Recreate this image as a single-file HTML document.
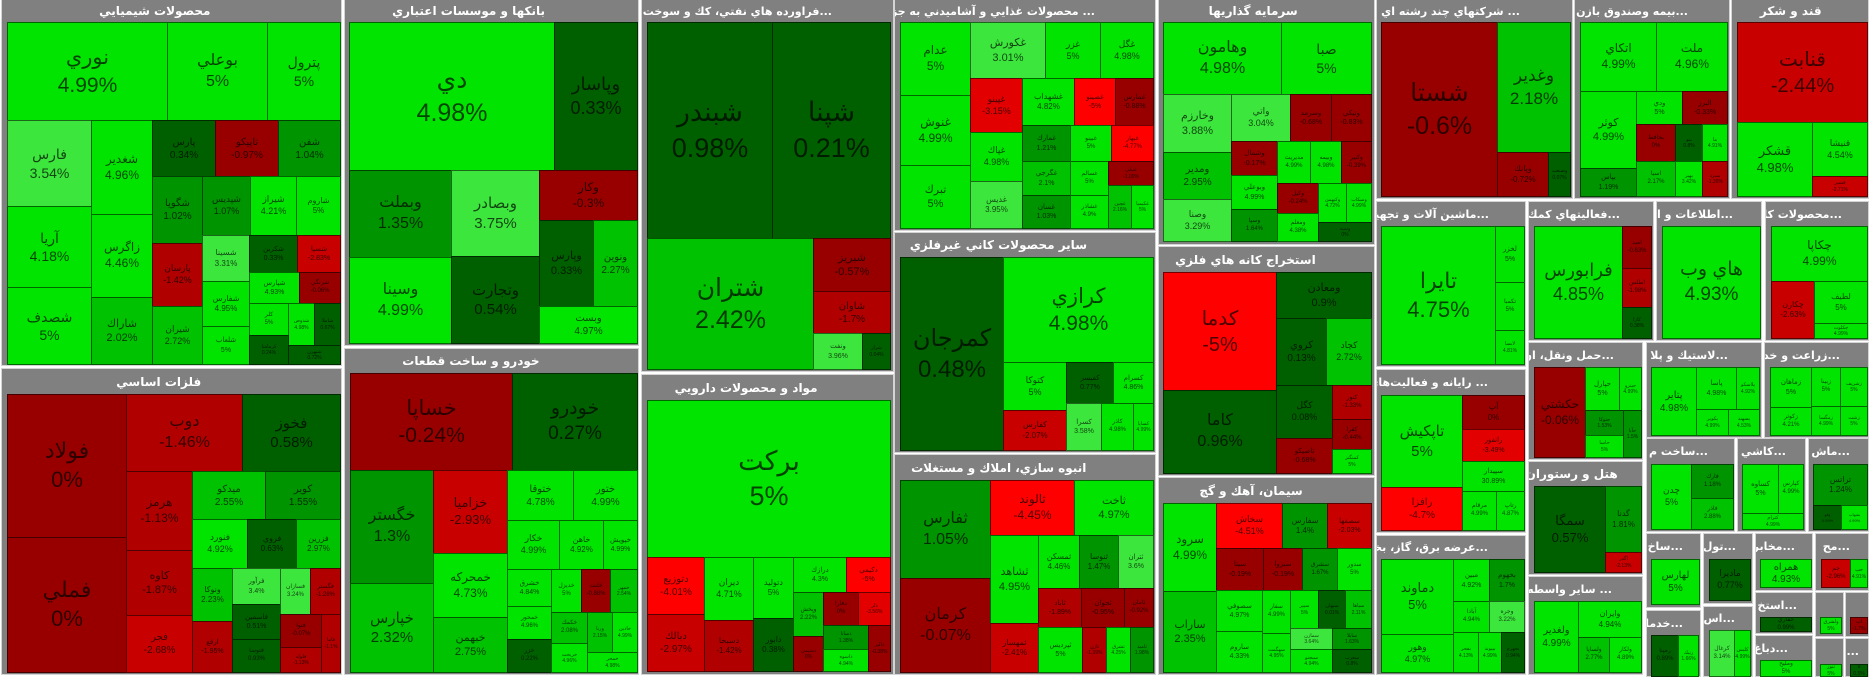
<!DOCTYPE html>
<html><head><meta charset="utf-8">
<style>
html,body{margin:0;padding:0}
body{width:1871px;height:676px;background:#fff;position:relative;overflow:hidden;font-family:"Liberation Sans","DejaVu Sans",sans-serif}
.s{position:absolute;background:#808080;box-shadow:0 0 0 1px #d4d4d4}
.h{position:absolute;left:0;right:0;top:0;display:flex;align-items:center;justify-content:center;color:#fff;font-weight:bold;font-size:12px;white-space:nowrap;overflow:hidden;font-family:"DejaVu Sans",sans-serif}
.h span{transform:translateX(-15%)}
.h.r{justify-content:flex-end;font-size:11px}
.h.r span{transform:none}
.t{position:absolute;box-sizing:border-box;border:1px solid rgba(0,0,0,.55);display:flex;align-items:center;justify-content:center;text-align:center;overflow:hidden;color:rgba(0,0,0,.7);line-height:1.3;white-space:nowrap}
.t p{margin:0}
.g4{background:#00e400}.g3{background:#3ce63c}.g2{background:#00c200}.g1{background:#009400}.g0{background:#006000}
.r0{background:#980000}.r1{background:#b00000}.r2{background:#c80000}.r3{background:#e20000}.r4{background:#ff0000}
</style></head><body>

<!-- sectors -->
<div class="s" style="left:2px;top:0;width:339px;height:365px"><div class="h" style="height:22px"><span>محصولات شيميايي</span></div></div>
<div class="s" style="left:2px;top:369px;width:339px;height:305px"><div class="h" style="height:25px"><span>فلزات اساسي</span></div></div>
<div class="s" style="left:345px;top:0;width:293px;height:345px"><div class="h" style="height:22px"><span>بانكها و موسسات اعتباري</span></div></div>
<div class="s" style="left:345px;top:349px;width:293px;height:325px"><div class="h" style="height:24px"><span>خودرو و ساخت قطعات</span></div></div>
<div class="s" style="left:642px;top:0;width:251px;height:371px"><div class="h r" style="height:22px;padding-right:61px"><span>فراورده هاي نفتي، كك و سوخت ه...</span></div></div>
<div class="s" style="left:642px;top:375px;width:251px;height:299px"><div class="h" style="height:25px"><span>مواد و محصولات دارويي</span></div></div>
<div class="s" style="left:895px;top:0;width:260px;height:230px"><div class="h r" style="height:22px;padding-right:60px"><span>محصولات غذايي و آشاميدني به جز ...</span></div></div>
<div class="s" style="left:895px;top:233px;width:260px;height:219px"><div class="h" style="height:24px"><span>ساير محصولات كاني غيرفلزي</span></div></div>
<div class="s" style="left:895px;top:455px;width:260px;height:219px"><div class="h" style="height:25px"><span>انبوه سازي، املاك و مستغلات</span></div></div>
<div class="s" style="left:1159px;top:0;width:215px;height:244px"><div class="h" style="height:22px"><span>سرمايه گذاريها</span></div></div>
<div class="s" style="left:1159px;top:247px;width:215px;height:228px"><div class="h" style="height:25px"><span>استخراج كانه هاي فلزي</span></div></div>
<div class="s" style="left:1159px;top:478px;width:215px;height:196px"><div class="h" style="height:25px"><span>سيمان، آهك و گچ</span></div></div>
<div class="s" style="left:1377px;top:0;width:195px;height:198px"><div class="h r" style="height:22px;padding-right:52px"><span>شركتهاي چند رشته اي ...</span></div></div>
<div class="s" style="left:1575px;top:0;width:154px;height:198px"><div class="h r" style="height:22px;padding-right:41px"><span>بيمه وصندوق بازن...</span></div></div>
<div class="s" style="left:1732px;top:0;width:136px;height:198px"><div class="h" style="height:22px"><span>قند و شكر</span></div></div>
<div class="s" style="left:1377px;top:202px;width:148px;height:164px"><div class="h r" style="height:24px;padding-right:36px"><span>ماشين آلات و تجهيز...</span></div></div>
<div class="s" style="left:1529px;top:202px;width:124px;height:138px"><div class="h r" style="height:24px;padding-right:33px"><span>فعاليتهاي كمك...</span></div></div>
<div class="s" style="left:1657px;top:202px;width:104px;height:138px"><div class="h r" style="height:24px;padding-right:28px"><span>اطلاعات و ار...</span></div></div>
<div class="s" style="left:1766px;top:202px;width:102px;height:138px"><div class="h r" style="height:24px;padding-right:26px"><span>محصولات كا...</span></div></div>
<div class="s" style="left:1377px;top:370px;width:148px;height:162px"><div class="h r" style="height:25px;padding-right:37px"><span>رايانه و فعاليت‌هاي ...</span></div></div>
<div class="s" style="left:1377px;top:536px;width:148px;height:138px"><div class="h r" style="height:23px;padding-right:37px"><span>عرضه برق، گاز، بخا...</span></div></div>
<div class="s" style="left:1529px;top:343px;width:113px;height:116px"><div class="h r" style="height:24px;padding-right:28px"><span>حمل ونقل، ان...</span></div></div>
<div class="s" style="left:1529px;top:462px;width:113px;height:112px"><div class="h" style="height:24px"><span>هتل و رستوران</span></div></div>
<div class="s" style="left:1529px;top:577px;width:113px;height:97px"><div class="h r" style="height:24px;padding-right:30px"><span>ساير واسطه ...</span></div></div>
<div class="s" style="left:1647px;top:343px;width:114px;height:94px"><div class="h r" style="height:24px;padding-right:33px"><span>لاستيك و پلا...</span></div></div>
<div class="s" style="left:1765px;top:343px;width:103px;height:94px"><div class="h r" style="height:24px;padding-right:28px"><span>زراعت و خد...</span></div></div>
<div class="s" style="left:1647px;top:439px;width:87px;height:92px"><div class="h r" style="height:25px;padding-right:26px"><span>ساخت م...</span></div></div>
<div class="s" style="left:1738px;top:439px;width:67px;height:92px"><div class="h r" style="height:25px;padding-right:19px"><span>كاشي...</span></div></div>
<div class="s" style="left:1809px;top:439px;width:59px;height:92px"><div class="h r" style="height:25px;padding-right:18px"><span>ماش...</span></div></div>
<div class="s" style="left:1647px;top:534px;width:53px;height:73px"><div class="h r" style="height:25px;padding-right:17px"><span>ساخ...</span></div></div>
<div class="s" style="left:1704px;top:534px;width:48px;height:69px"><div class="h r" style="height:25px;padding-right:16px"><span>تول...</span></div></div>
<div class="s" style="left:1756px;top:534px;width:56px;height:56px"><div class="h r" style="height:25px;padding-right:17px"><span>مخابر...</span></div></div>
<div class="s" style="left:1816px;top:534px;width:52px;height:56px"><div class="h r" style="height:25px;padding-right:18px"><span>مح...</span></div></div>
<div class="s" style="left:1647px;top:611px;width:53px;height:65px"><div class="h r" style="height:24px;padding-right:17px"><span>خدما...</span></div></div>
<div class="s" style="left:1704px;top:607px;width:48px;height:69px"><div class="h r" style="height:23px;padding-right:17px"><span>اس...</span></div></div>
<div class="s" style="left:1756px;top:593px;width:56px;height:40px"><div class="h r" style="height:24px;padding-right:15px"><span>استخ...</span></div></div>
<div class="s" style="left:1756px;top:636px;width:56px;height:40px"><div class="h r" style="height:24px;padding-right:24px"><span>دباغ...</span></div></div>
<div class="s" style="left:1816px;top:593px;width:27px;height:43px"></div>
<div class="s" style="left:1846px;top:593px;width:22px;height:43px"></div>
<div class="s" style="left:1816px;top:639px;width:27px;height:37px"></div>
<div class="s" style="left:1846px;top:639px;width:22px;height:37px"><div class="h r" style="height:25px;padding-right:9px"><span>ا...</span></div></div>

<!-- chem -->
<div class="t g4" style="left:7px;top:22px;width:161px;height:99px;font-size:21px"><p>نوري<br>4.99%</p></div>
<div class="t g4" style="left:167px;top:22px;width:101px;height:99px;font-size:16px"><p>بوعلي<br>5%</p></div>
<div class="t g4" style="left:267px;top:22px;width:74px;height:99px;font-size:14px"><p>پترول<br>5%</p></div>
<div class="t g3" style="left:7px;top:120px;width:85px;height:87px;font-size:14px"><p>فارس<br>3.54%</p></div>
<div class="t g4" style="left:7px;top:206px;width:85px;height:82px;font-size:14px"><p>آريا<br>4.18%</p></div>
<div class="t g4" style="left:7px;top:287px;width:85px;height:78px;font-size:14px"><p>شصدف<br>5%</p></div>
<div class="t g4" style="left:91px;top:120px;width:62px;height:95px;font-size:12px"><p>شغدير<br>4.96%</p></div>
<div class="t g4" style="left:91px;top:214px;width:62px;height:84px;font-size:12px"><p>زاگرس<br>4.46%</p></div>
<div class="t g2" style="left:91px;top:297px;width:62px;height:68px;font-size:11px"><p>شاراك<br>2.02%</p></div>
<div class="t g0" style="left:152px;top:120px;width:64px;height:57px;font-size:10px"><p>پارس<br>0.34%</p></div>
<div class="t r0" style="left:215px;top:120px;width:64px;height:57px;font-size:10px"><p>تاپيكو<br>-0.97%</p></div>
<div class="t g1" style="left:278px;top:120px;width:63px;height:57px;font-size:10px"><p>شفن<br>1.04%</p></div>
<div class="t g1" style="left:152px;top:176px;width:51px;height:68px;font-size:10px"><p>شگويا<br>1.02%</p></div>
<div class="t r1" style="left:152px;top:243px;width:51px;height:64px;font-size:9px"><p>پارسان<br>-1.42%</p></div>
<div class="t g2" style="left:152px;top:306px;width:51px;height:59px;font-size:9px"><p>شيران<br>2.72%</p></div>
<div class="t g1" style="left:202px;top:176px;width:49px;height:60px;font-size:9px"><p>شپديس<br>1.07%</p></div>
<div class="t g4" style="left:250px;top:176px;width:47px;height:60px;font-size:9px"><p>شيراز<br>4.21%</p></div>
<div class="t g4" style="left:296px;top:176px;width:45px;height:60px;font-size:8px"><p>شاروم<br>5%</p></div>
<div class="t g3" style="left:202px;top:235px;width:48px;height:47px;font-size:8px"><p>شسينا<br>3.31%</p></div>
<div class="t g4" style="left:202px;top:281px;width:48px;height:46px;font-size:8px"><p>شفارس<br>4.95%</p></div>
<div class="t g4" style="left:202px;top:326px;width:48px;height:39px;font-size:7px"><p>شلعاب<br>5%</p></div>
<div class="t g0" style="left:249px;top:235px;width:49px;height:38px;font-size:7px"><p>شكربن<br>0.33%</p></div>
<div class="t r2" style="left:297px;top:235px;width:44px;height:38px;font-size:7px"><p>شسپا<br>-2.83%</p></div>
<div class="t g4" style="left:249px;top:272px;width:51px;height:32px;font-size:7px"><p>شپارس<br>4.93%</p></div>
<div class="t r0" style="left:299px;top:272px;width:42px;height:32px;font-size:6px"><p>شرنگي<br>-0.06%</p></div>
<div class="t g4" style="left:249px;top:303px;width:40px;height:33px;font-size:6px"><p>كلر<br>5%</p></div>
<div class="t g4" style="left:288px;top:303px;width:27px;height:43px;font-size:5px"><p>شدوص<br>4.98%</p></div>
<div class="t g0" style="left:314px;top:303px;width:27px;height:43px;font-size:5px"><p>شاملا<br>0.67%</p></div>
<div class="t g0" style="left:249px;top:335px;width:40px;height:30px;font-size:5px"><p>كرماشا<br>0.24%</p></div>
<div class="t g0" style="left:288px;top:345px;width:53px;height:20px;font-size:5px"><p>شبهرن<br>0.72%</p></div>

<!-- metals -->
<div class="t r0" style="left:7px;top:394px;width:120px;height:144px;font-size:22px"><p>فولاد<br>0%</p></div>
<div class="t r0" style="left:7px;top:537px;width:120px;height:136px;font-size:22px"><p>فملي<br>0%</p></div>
<div class="t r1" style="left:126px;top:394px;width:117px;height:78px;font-size:16px"><p>دوب<br>-1.46%</p></div>
<div class="t g0" style="left:242px;top:394px;width:99px;height:78px;font-size:15px"><p>فخوز<br>0.58%</p></div>
<div class="t r1" style="left:126px;top:471px;width:67px;height:80px;font-size:12px"><p>هرمز<br>-1.13%</p></div>
<div class="t r1" style="left:126px;top:550px;width:67px;height:66px;font-size:11px"><p>كاوه<br>-1.87%</p></div>
<div class="t r2" style="left:126px;top:615px;width:67px;height:58px;font-size:10px"><p>فجر<br>-2.68%</p></div>
<div class="t g2" style="left:192px;top:471px;width:74px;height:49px;font-size:10px"><p>ميدكو<br>2.55%</p></div>
<div class="t g1" style="left:265px;top:471px;width:76px;height:49px;font-size:10px"><p>كوير<br>1.55%</p></div>
<div class="t g4" style="left:192px;top:519px;width:56px;height:50px;font-size:9px"><p>فنورد<br>4.92%</p></div>
<div class="t g0" style="left:247px;top:519px;width:50px;height:50px;font-size:8px"><p>فروي<br>0.63%</p></div>
<div class="t g2" style="left:296px;top:519px;width:45px;height:50px;font-size:8px"><p>فزرين<br>2.97%</p></div>
<div class="t g2" style="left:192px;top:568px;width:41px;height:54px;font-size:8px"><p>ونوكا<br>2.23%</p></div>
<div class="t r1" style="left:192px;top:621px;width:41px;height:52px;font-size:7px"><p>ارفع<br>-1.95%</p></div>
<div class="t g3" style="left:232px;top:568px;width:49px;height:37px;font-size:7px"><p>فرآور<br>3.4%</p></div>
<div class="t g0" style="left:232px;top:604px;width:49px;height:36px;font-size:7px"><p>فاسمين<br>0.51%</p></div>
<div class="t g0" style="left:232px;top:639px;width:49px;height:34px;font-size:6px"><p>فتوسا<br>0.93%</p></div>
<div class="t g3" style="left:280px;top:568px;width:31px;height:47px;font-size:6px"><p>فسازان<br>3.24%</p></div>
<div class="t r1" style="left:310px;top:568px;width:31px;height:47px;font-size:6px"><p>فگستر<br>-1.28%</p></div>
<div class="t r0" style="left:280px;top:614px;width:42px;height:34px;font-size:6px"><p>فنوا<br>-0.07%</p></div>
<div class="t r1" style="left:280px;top:647px;width:42px;height:26px;font-size:5px"><p>فلوله<br>-1.13%</p></div>
<div class="t r1" style="left:321px;top:614px;width:20px;height:59px;font-size:5px"><p>فاما<br>-1.1%</p></div>

<!-- banks -->
<div class="t g4" style="left:349px;top:22px;width:206px;height:149px;font-size:25px"><p>دي<br>4.98%</p></div>
<div class="t g0" style="left:554px;top:22px;width:84px;height:149px;font-size:18px"><p>وپاسار<br>0.33%</p></div>
<div class="t g1" style="left:349px;top:170px;width:103px;height:88px;font-size:16px"><p>وبملت<br>1.35%</p></div>
<div class="t g4" style="left:349px;top:257px;width:103px;height:87px;font-size:16px"><p>وسينا<br>4.99%</p></div>
<div class="t g3" style="left:451px;top:170px;width:89px;height:87px;font-size:15px"><p>وبصادر<br>3.75%</p></div>
<div class="t g0" style="left:451px;top:256px;width:89px;height:88px;font-size:15px"><p>وتجارت<br>0.54%</p></div>
<div class="t r0" style="left:539px;top:170px;width:99px;height:51px;font-size:12px"><p>وكار<br>-0.3%</p></div>
<div class="t g0" style="left:539px;top:220px;width:55px;height:87px;font-size:11px"><p>وپارس<br>0.33%</p></div>
<div class="t g2" style="left:593px;top:220px;width:45px;height:87px;font-size:10px"><p>ونوين<br>2.27%</p></div>
<div class="t g4" style="left:539px;top:306px;width:99px;height:38px;font-size:10px"><p>وبست<br>4.97%</p></div>

<!-- khodro -->
<div class="t r0" style="left:350px;top:373px;width:163px;height:98px;font-size:21px"><p>خساپا<br>-0.24%</p></div>
<div class="t g0" style="left:512px;top:373px;width:126px;height:98px;font-size:19px"><p>خودرو<br>0.27%</p></div>
<div class="t g1" style="left:350px;top:470px;width:84px;height:114px;font-size:16px"><p>خگستر<br>1.3%</p></div>
<div class="t g2" style="left:350px;top:583px;width:84px;height:90px;font-size:15px"><p>خپارس<br>2.32%</p></div>
<div class="t r2" style="left:433px;top:470px;width:75px;height:84px;font-size:13px"><p>خزاميا<br>-2.93%</p></div>
<div class="t g4" style="left:433px;top:553px;width:75px;height:65px;font-size:12px"><p>خمحركه<br>4.73%</p></div>
<div class="t g2" style="left:433px;top:617px;width:75px;height:56px;font-size:11px"><p>خبهمن<br>2.75%</p></div>
<div class="t g4" style="left:507px;top:470px;width:67px;height:51px;font-size:10px"><p>ختوقا<br>4.78%</p></div>
<div class="t g4" style="left:573px;top:470px;width:65px;height:51px;font-size:10px"><p>ختور<br>4.99%</p></div>
<div class="t g4" style="left:507px;top:520px;width:53px;height:50px;font-size:9px"><p>خكار<br>4.99%</p></div>
<div class="t g4" style="left:559px;top:520px;width:45px;height:50px;font-size:8px"><p>خاهن<br>4.92%</p></div>
<div class="t g4" style="left:603px;top:520px;width:35px;height:50px;font-size:7px"><p>خپويش<br>4.99%</p></div>
<div class="t g4" style="left:507px;top:569px;width:45px;height:38px;font-size:7px"><p>خشرق<br>4.84%</p></div>
<div class="t g4" style="left:507px;top:606px;width:45px;height:34px;font-size:6px"><p>خمحور<br>4.96%</p></div>
<div class="t g0" style="left:507px;top:639px;width:45px;height:34px;font-size:6px"><p>خزر<br>0.22%</p></div>
<div class="t g4" style="left:551px;top:569px;width:31px;height:44px;font-size:6px"><p>خديزل<br>5%</p></div>
<div class="t r0" style="left:581px;top:569px;width:30px;height:44px;font-size:6px"><p>خلنت<br>-0.88%</p></div>
<div class="t g2" style="left:610px;top:569px;width:28px;height:44px;font-size:5px"><p>خمهر<br>2.54%</p></div>
<div class="t g2" style="left:551px;top:612px;width:37px;height:32px;font-size:6px"><p>خكمك<br>2.08%</p></div>
<div class="t g4" style="left:551px;top:643px;width:37px;height:30px;font-size:5px"><p>خريخت<br>4.96%</p></div>
<div class="t g2" style="left:587px;top:612px;width:26px;height:41px;font-size:5px"><p>ورنا<br>2.15%</p></div>
<div class="t g4" style="left:612px;top:612px;width:26px;height:41px;font-size:5px"><p>خاذين<br>4.99%</p></div>
<div class="t g4" style="left:587px;top:652px;width:51px;height:21px;font-size:5px"><p>خمحر<br>4.98%</p></div>

<!-- oil -->
<div class="t g0" style="left:647px;top:22px;width:126px;height:217px;font-size:27px"><p>شبندر<br>0.98%</p></div>
<div class="t g0" style="left:772px;top:22px;width:119px;height:217px;font-size:27px"><p>شپنا<br>0.21%</p></div>
<div class="t g2" style="left:647px;top:238px;width:167px;height:132px;font-size:25px"><p>شتران<br>2.42%</p></div>
<div class="t r0" style="left:813px;top:238px;width:78px;height:54px;font-size:11px"><p>شبريز<br>-0.57%</p></div>
<div class="t r1" style="left:813px;top:291px;width:78px;height:43px;font-size:10px"><p>شاوان<br>-1.7%</p></div>
<div class="t g3" style="left:813px;top:333px;width:50px;height:37px;font-size:7px"><p>ونفت<br>3.96%</p></div>
<div class="t g0" style="left:862px;top:333px;width:29px;height:37px;font-size:5px"><p>شراز<br>0.04%</p></div>

<!-- pharma -->
<div class="t g4" style="left:647px;top:400px;width:244px;height:158px;font-size:27px"><p>بركت<br>5%</p></div>
<div class="t r4" style="left:647px;top:557px;width:58px;height:58px;font-size:10px"><p>دتوزيع<br>-4.01%</p></div>
<div class="t r2" style="left:647px;top:614px;width:58px;height:58px;font-size:10px"><p>دبالك<br>-2.97%</p></div>
<div class="t g4" style="left:704px;top:557px;width:50px;height:64px;font-size:9px"><p>ديران<br>4.71%</p></div>
<div class="t r1" style="left:704px;top:620px;width:50px;height:52px;font-size:8px"><p>دسبحا<br>-1.42%</p></div>
<div class="t g4" style="left:753px;top:557px;width:41px;height:62px;font-size:8px"><p>دتوليد<br>5%</p></div>
<div class="t g0" style="left:753px;top:618px;width:41px;height:54px;font-size:8px"><p>دابور<br>0.38%</p></div>
<div class="t g4" style="left:793px;top:557px;width:54px;height:36px;font-size:7px"><p>درازك<br>4.3%</p></div>
<div class="t r4" style="left:846px;top:557px;width:45px;height:36px;font-size:7px"><p>دكيمي<br>-5%</p></div>
<div class="t g2" style="left:793px;top:592px;width:31px;height:45px;font-size:6px"><p>وپخش<br>2.22%</p></div>
<div class="t r0" style="left:793px;top:636px;width:31px;height:36px;font-size:5px"><p>دشيمي<br>0%</p></div>
<div class="t r0" style="left:823px;top:592px;width:36px;height:34px;font-size:6px"><p>دفارا<br>0%</p></div>
<div class="t r3" style="left:858px;top:592px;width:33px;height:34px;font-size:5px"><p>دلر<br>-3.56%</p></div>
<div class="t g1" style="left:823px;top:625px;width:46px;height:25px;font-size:5px"><p>دسانا<br>1.38%</p></div>
<div class="t g4" style="left:823px;top:649px;width:46px;height:23px;font-size:5px"><p>داسوه<br>4.94%</p></div>
<div class="t r0" style="left:868px;top:625px;width:23px;height:47px;font-size:5px"><p>دالبر<br>-0.38%</p></div>

<!-- food -->
<div class="t g4" style="left:900px;top:22px;width:71px;height:74px;font-size:12px"><p>عدام<br>5%</p></div>
<div class="t g4" style="left:900px;top:95px;width:71px;height:71px;font-size:12px"><p>غنوش<br>4.99%</p></div>
<div class="t g4" style="left:900px;top:165px;width:71px;height:64px;font-size:11px"><p>تبرك<br>5%</p></div>
<div class="t g3" style="left:970px;top:22px;width:76px;height:57px;font-size:11px"><p>غكورش<br>3.01%</p></div>
<div class="t g4" style="left:1045px;top:22px;width:56px;height:57px;font-size:9px"><p>غزر<br>5%</p></div>
<div class="t g4" style="left:1100px;top:22px;width:54px;height:57px;font-size:9px"><p>غگل<br>4.98%</p></div>
<div class="t r3" style="left:970px;top:78px;width:53px;height:55px;font-size:9px"><p>غپينو<br>-3.15%</p></div>
<div class="t g4" style="left:1022px;top:78px;width:53px;height:48px;font-size:8px"><p>غشهداب<br>4.82%</p></div>
<div class="t r4" style="left:1074px;top:78px;width:42px;height:48px;font-size:7px"><p>غصينو<br>-5%</p></div>
<div class="t r0" style="left:1115px;top:78px;width:39px;height:48px;font-size:7px"><p>غمارس<br>-0.88%</p></div>
<div class="t g4" style="left:970px;top:132px;width:53px;height:50px;font-size:9px"><p>غپاك<br>4.98%</p></div>
<div class="t g3" style="left:970px;top:181px;width:53px;height:48px;font-size:8px"><p>غديس<br>3.95%</p></div>
<div class="t g1" style="left:1022px;top:125px;width:49px;height:37px;font-size:7px"><p>غمارك<br>1.21%</p></div>
<div class="t g2" style="left:1022px;top:161px;width:49px;height:35px;font-size:7px"><p>غگرجي<br>2.1%</p></div>
<div class="t g1" style="left:1022px;top:195px;width:49px;height:34px;font-size:7px"><p>غسان<br>1.03%</p></div>
<div class="t g4" style="left:1070px;top:125px;width:42px;height:37px;font-size:6px"><p>غبينو<br>5%</p></div>
<div class="t r4" style="left:1111px;top:125px;width:43px;height:37px;font-size:6px"><p>غبهار<br>-4.77%</p></div>
<div class="t g4" style="left:1070px;top:161px;width:39px;height:35px;font-size:6px"><p>غسالم<br>5%</p></div>
<div class="t g4" style="left:1070px;top:195px;width:39px;height:34px;font-size:6px"><p>غشاذر<br>4.9%</p></div>
<div class="t r0" style="left:1108px;top:161px;width:46px;height:25px;font-size:5px"><p>غنيلي<br>-1.09%</p></div>
<div class="t g2" style="left:1108px;top:185px;width:24px;height:44px;font-size:5px"><p>غچين<br>2.16%</p></div>
<div class="t g4" style="left:1131px;top:185px;width:23px;height:44px;font-size:5px"><p>غكيميا<br>5%</p></div>

<!-- kani -->
<div class="t g0" style="left:900px;top:257px;width:104px;height:194px;font-size:24px"><p>كمرجان<br>0.48%</p></div>
<div class="t g4" style="left:1003px;top:257px;width:151px;height:106px;font-size:21px"><p>كرازي<br>4.98%</p></div>
<div class="t g4" style="left:1003px;top:362px;width:64px;height:49px;font-size:9px"><p>كتوكا<br>5%</p></div>
<div class="t g0" style="left:1066px;top:362px;width:48px;height:42px;font-size:7px"><p>كفيسر<br>0.77%</p></div>
<div class="t g4" style="left:1113px;top:362px;width:41px;height:42px;font-size:7px"><p>كسرام<br>4.86%</p></div>
<div class="t r2" style="left:1003px;top:410px;width:64px;height:41px;font-size:8px"><p>كفارس<br>-2.07%</p></div>
<div class="t g3" style="left:1066px;top:403px;width:36px;height:48px;font-size:7px"><p>كسرا<br>3.58%</p></div>
<div class="t g4" style="left:1101px;top:403px;width:33px;height:48px;font-size:6px"><p>كاذر<br>4.98%</p></div>
<div class="t g4" style="left:1133px;top:403px;width:21px;height:48px;font-size:5px"><p>كساپا<br>4.99%</p></div>

<!-- anbooh -->
<div class="t g1" style="left:900px;top:480px;width:91px;height:99px;font-size:16px"><p>ثفارس<br>1.05%</p></div>
<div class="t r0" style="left:900px;top:578px;width:91px;height:95px;font-size:16px"><p>كرمان<br>-0.07%</p></div>
<div class="t r4" style="left:990px;top:480px;width:85px;height:56px;font-size:12px"><p>ثالوند<br>-4.45%</p></div>
<div class="t g4" style="left:1074px;top:480px;width:80px;height:56px;font-size:11px"><p>ثاخت<br>4.97%</p></div>
<div class="t g4" style="left:990px;top:535px;width:49px;height:89px;font-size:11px"><p>ثشاهد<br>4.95%</p></div>
<div class="t r2" style="left:990px;top:623px;width:49px;height:50px;font-size:8px"><p>ثمهسار<br>-2.41%</p></div>
<div class="t g4" style="left:1038px;top:535px;width:42px;height:54px;font-size:8px"><p>ثمسكن<br>4.46%</p></div>
<div class="t g1" style="left:1079px;top:535px;width:40px;height:54px;font-size:8px"><p>ثنوسا<br>1.47%</p></div>
<div class="t g3" style="left:1118px;top:535px;width:36px;height:54px;font-size:7px"><p>ثتران<br>3.6%</p></div>
<div class="t r1" style="left:1038px;top:588px;width:44px;height:40px;font-size:7px"><p>ثاباد<br>-1.89%</p></div>
<div class="t r0" style="left:1081px;top:588px;width:44px;height:40px;font-size:7px"><p>ثجوان<br>-0.95%</p></div>
<div class="t r0" style="left:1124px;top:588px;width:30px;height:40px;font-size:6px"><p>ثامان<br>-0.92%</p></div>
<div class="t g4" style="left:1038px;top:627px;width:45px;height:46px;font-size:7px"><p>ثپرديس<br>5%</p></div>
<div class="t r1" style="left:1082px;top:627px;width:25px;height:46px;font-size:5px"><p>ثاژن<br>-1.39%</p></div>
<div class="t g4" style="left:1106px;top:627px;width:25px;height:46px;font-size:5px"><p>ثشرق<br>4.25%</p></div>
<div class="t g1" style="left:1130px;top:627px;width:24px;height:46px;font-size:5px"><p>ثاميد<br>1.98%</p></div>

<!-- sarmaye -->
<div class="t g4" style="left:1163px;top:22px;width:119px;height:73px;font-size:16px"><p>وهامون<br>4.98%</p></div>
<div class="t g4" style="left:1281px;top:22px;width:91px;height:73px;font-size:14px"><p>صبا<br>5%</p></div>
<div class="t g3" style="left:1163px;top:94px;width:69px;height:59px;font-size:11px"><p>وخارزم<br>3.88%</p></div>
<div class="t g2" style="left:1163px;top:152px;width:69px;height:48px;font-size:10px"><p>ومدير<br>2.95%</p></div>
<div class="t g3" style="left:1163px;top:199px;width:69px;height:43px;font-size:9px"><p>وصنا<br>3.29%</p></div>
<div class="t g3" style="left:1231px;top:94px;width:60px;height:48px;font-size:9px"><p>واتي<br>3.04%</p></div>
<div class="t r0" style="left:1290px;top:94px;width:42px;height:48px;font-size:7px"><p>وسرمد<br>-0.68%</p></div>
<div class="t r0" style="left:1331px;top:94px;width:41px;height:48px;font-size:7px"><p>ونيكي<br>-0.83%</p></div>
<div class="t r0" style="left:1231px;top:141px;width:47px;height:35px;font-size:7px"><p>وشمال<br>-0.17%</p></div>
<div class="t g4" style="left:1231px;top:175px;width:47px;height:35px;font-size:7px"><p>وبوعلي<br>4.99%</p></div>
<div class="t g1" style="left:1231px;top:209px;width:47px;height:33px;font-size:6px"><p>وسپا<br>1.64%</p></div>
<div class="t g4" style="left:1277px;top:141px;width:34px;height:43px;font-size:6px"><p>مديريت<br>4.99%</p></div>
<div class="t g4" style="left:1310px;top:141px;width:32px;height:43px;font-size:6px"><p>وبيمه<br>4.98%</p></div>
<div class="t r0" style="left:1341px;top:141px;width:31px;height:43px;font-size:6px"><p>وكبير<br>-0.39%</p></div>
<div class="t r0" style="left:1277px;top:183px;width:42px;height:31px;font-size:6px"><p>وكيل<br>-0.24%</p></div>
<div class="t g4" style="left:1277px;top:213px;width:42px;height:29px;font-size:6px"><p>ومعلم<br>4.38%</p></div>
<div class="t g4" style="left:1318px;top:183px;width:29px;height:40px;font-size:5px"><p>وكبهمن<br>4.72%</p></div>
<div class="t g4" style="left:1346px;top:183px;width:26px;height:40px;font-size:5px"><p>وسكاب<br>4.99%</p></div>
<div class="t g0" style="left:1318px;top:222px;width:54px;height:20px;font-size:5px"><p>وسپه<br>0%</p></div>

<!-- estekhraj -->
<div class="t r4" style="left:1163px;top:272px;width:114px;height:119px;font-size:20px"><p>كدما<br>-5%</p></div>
<div class="t g0" style="left:1163px;top:390px;width:114px;height:84px;font-size:16px"><p>كاما<br>0.96%</p></div>
<div class="t g0" style="left:1276px;top:272px;width:96px;height:47px;font-size:11px"><p>ومعادن<br>0.9%</p></div>
<div class="t g0" style="left:1276px;top:318px;width:51px;height:68px;font-size:10px"><p>كروي<br>0.13%</p></div>
<div class="t g2" style="left:1326px;top:318px;width:46px;height:68px;font-size:9px"><p>كچاد<br>2.72%</p></div>
<div class="t g0" style="left:1276px;top:385px;width:57px;height:54px;font-size:9px"><p>كگل<br>0.08%</p></div>
<div class="t r0" style="left:1276px;top:438px;width:57px;height:36px;font-size:7px"><p>تاصيكو<br>-0.68%</p></div>
<div class="t r1" style="left:1332px;top:385px;width:40px;height:35px;font-size:6px"><p>كنور<br>-1.33%</p></div>
<div class="t r0" style="left:1332px;top:419px;width:40px;height:31px;font-size:6px"><p>كفرا<br>-0.44%</p></div>
<div class="t g4" style="left:1332px;top:449px;width:40px;height:25px;font-size:5px"><p>كمنگنز<br>5%</p></div>

<!-- siman -->
<div class="t g4" style="left:1163px;top:503px;width:54px;height:89px;font-size:12px"><p>سرود<br>4.99%</p></div>
<div class="t g2" style="left:1163px;top:591px;width:54px;height:82px;font-size:11px"><p>ساراب<br>2.35%</p></div>
<div class="t r4" style="left:1216px;top:503px;width:67px;height:46px;font-size:9px"><p>سخاش<br>-4.51%</p></div>
<div class="t g1" style="left:1282px;top:503px;width:46px;height:46px;font-size:8px"><p>سفارس<br>1.4%</p></div>
<div class="t r2" style="left:1327px;top:503px;width:45px;height:46px;font-size:7px"><p>سصفها<br>-2.03%</p></div>
<div class="t r0" style="left:1216px;top:548px;width:48px;height:43px;font-size:7px"><p>سيتا<br>-0.19%</p></div>
<div class="t r0" style="left:1263px;top:548px;width:40px;height:43px;font-size:7px"><p>سبزوا<br>-0.19%</p></div>
<div class="t g1" style="left:1302px;top:548px;width:36px;height:43px;font-size:6px"><p>سشرق<br>1.67%</p></div>
<div class="t g4" style="left:1337px;top:548px;width:35px;height:43px;font-size:6px"><p>سدور<br>5%</p></div>
<div class="t g4" style="left:1216px;top:590px;width:47px;height:42px;font-size:7px"><p>سصوفي<br>4.97%</p></div>
<div class="t g4" style="left:1216px;top:631px;width:47px;height:42px;font-size:7px"><p>ساروم<br>4.33%</p></div>
<div class="t g4" style="left:1262px;top:590px;width:29px;height:44px;font-size:6px"><p>سفار<br>4.99%</p></div>
<div class="t g4" style="left:1262px;top:633px;width:29px;height:40px;font-size:5px"><p>سهگمت<br>4.95%</p></div>
<div class="t g4" style="left:1290px;top:590px;width:29px;height:39px;font-size:5px"><p>سيپر<br>5%</p></div>
<div class="t g0" style="left:1318px;top:590px;width:28px;height:39px;font-size:5px"><p>سبهان<br>0.01%</p></div>
<div class="t g2" style="left:1345px;top:590px;width:27px;height:39px;font-size:5px"><p>سپاها<br>2.11%</p></div>
<div class="t g3" style="left:1290px;top:628px;width:43px;height:22px;font-size:5px"><p>سمازن<br>3.64%</p></div>
<div class="t g1" style="left:1332px;top:628px;width:40px;height:22px;font-size:5px"><p>سايلا<br>1.63%</p></div>
<div class="t g4" style="left:1290px;top:649px;width:43px;height:24px;font-size:5px"><p>سبجنو<br>4.94%</p></div>
<div class="t g0" style="left:1332px;top:649px;width:40px;height:24px;font-size:5px"><p>سغرب<br>0.8%</p></div>

<!-- chand reshte -->
<div class="t r0" style="left:1381px;top:22px;width:117px;height:175px;font-size:25px"><p>شستا<br>-0.6%</p></div>
<div class="t g2" style="left:1497px;top:22px;width:74px;height:131px;font-size:17px"><p>وغدير<br>2.18%</p></div>
<div class="t r0" style="left:1497px;top:152px;width:52px;height:45px;font-size:8px"><p>وپانك<br>-0.72%</p></div>
<div class="t g0" style="left:1548px;top:152px;width:23px;height:45px;font-size:5px"><p>وصنعت<br>0.07%</p></div>

<!-- bime -->
<div class="t g4" style="left:1580px;top:22px;width:77px;height:70px;font-size:12px"><p>اتكاي<br>4.99%</p></div>
<div class="t g4" style="left:1656px;top:22px;width:72px;height:70px;font-size:12px"><p>ملت<br>4.96%</p></div>
<div class="t g4" style="left:1580px;top:91px;width:57px;height:78px;font-size:11px"><p>كوثر<br>4.99%</p></div>
<div class="t g1" style="left:1580px;top:168px;width:57px;height:29px;font-size:7px"><p>بپاس<br>1.19%</p></div>
<div class="t g4" style="left:1636px;top:91px;width:47px;height:34px;font-size:7px"><p>ودي<br>5%</p></div>
<div class="t r0" style="left:1682px;top:91px;width:46px;height:34px;font-size:7px"><p>البرز<br>-0.33%</p></div>
<div class="t r0" style="left:1636px;top:124px;width:40px;height:38px;font-size:6px"><p>بحافظ<br>0%</p></div>
<div class="t g0" style="left:1675px;top:124px;width:28px;height:38px;font-size:5px"><p>بنو<br>0.8%</p></div>
<div class="t g4" style="left:1702px;top:124px;width:26px;height:38px;font-size:5px"><p>ما<br>4.91%</p></div>
<div class="t g2" style="left:1636px;top:161px;width:40px;height:36px;font-size:6px"><p>اسيا<br>2.17%</p></div>
<div class="t g4" style="left:1675px;top:161px;width:28px;height:36px;font-size:5px"><p>بهير<br>3.42%</p></div>
<div class="t r1" style="left:1702px;top:161px;width:26px;height:36px;font-size:5px"><p>بسرد<br>-1.36%</p></div>

<!-- ghand -->
<div class="t r2" style="left:1737px;top:22px;width:131px;height:101px;font-size:20px"><p>قنابت<br>-2.44%</p></div>
<div class="t g4" style="left:1737px;top:122px;width:76px;height:75px;font-size:13px"><p>قشكر<br>4.98%</p></div>
<div class="t g4" style="left:1812px;top:122px;width:56px;height:55px;font-size:9px"><p>قنيشا<br>4.54%</p></div>
<div class="t r2" style="left:1812px;top:176px;width:56px;height:21px;font-size:5px"><p>قشير<br>-2.71%</p></div>

<!-- mashin -->
<div class="t g4" style="left:1381px;top:226px;width:115px;height:139px;font-size:22px"><p>تايرا<br>4.75%</p></div>
<div class="t g4" style="left:1495px;top:226px;width:30px;height:57px;font-size:7px"><p>لخزر<br>5%</p></div>
<div class="t g4" style="left:1495px;top:282px;width:30px;height:49px;font-size:6px"><p>تكمبا<br>5%</p></div>
<div class="t g4" style="left:1495px;top:330px;width:30px;height:35px;font-size:5px"><p>لابسا<br>4.81%</p></div>

<!-- faaliat -->
<div class="t g4" style="left:1534px;top:226px;width:89px;height:113px;font-size:18px"><p>فرابورس<br>4.85%</p></div>
<div class="t r0" style="left:1622px;top:226px;width:30px;height:43px;font-size:6px"><p>اميد<br>-0.63%</p></div>
<div class="t r1" style="left:1622px;top:268px;width:30px;height:40px;font-size:6px"><p>اطلس<br>-1.98%</p></div>
<div class="t g0" style="left:1622px;top:307px;width:30px;height:32px;font-size:5px"><p>كارا<br>0.38%</p></div>

<!-- web -->
<div class="t g4" style="left:1662px;top:226px;width:99px;height:113px;font-size:19px"><p>هاي وب<br>4.93%</p></div>

<!-- kashi products -->
<div class="t g4" style="left:1771px;top:226px;width:97px;height:56px;font-size:12px"><p>چكاپا<br>4.99%</p></div>
<div class="t r2" style="left:1771px;top:281px;width:44px;height:58px;font-size:8px"><p>چكارن<br>-2.63%</p></div>
<div class="t g4" style="left:1814px;top:281px;width:54px;height:43px;font-size:8px"><p>لطيف<br>5%</p></div>
<div class="t g4" style="left:1814px;top:323px;width:54px;height:16px;font-size:5px"><p>چكلوت<br>4.99%</p></div>

<!-- rayane -->
<div class="t g4" style="left:1381px;top:395px;width:82px;height:93px;font-size:15px"><p>تاپكيش<br>5%</p></div>
<div class="t r4" style="left:1381px;top:487px;width:82px;height:44px;font-size:10px"><p>رافزا<br>-4.7%</p></div>
<div class="t r0" style="left:1462px;top:395px;width:63px;height:35px;font-size:8px"><p>آپ<br>0%</p></div>
<div class="t r3" style="left:1462px;top:429px;width:63px;height:33px;font-size:7px"><p>رانفور<br>-3.49%</p></div>
<div class="t g4" style="left:1462px;top:461px;width:63px;height:31px;font-size:7px"><p>سپيدار<br>30.89%</p></div>
<div class="t g4" style="left:1462px;top:491px;width:35px;height:40px;font-size:6px"><p>مرقام<br>4.99%</p></div>
<div class="t g4" style="left:1496px;top:491px;width:29px;height:40px;font-size:6px"><p>رتاپ<br>4.87%</p></div>

<!-- bargh -->
<div class="t g4" style="left:1381px;top:559px;width:73px;height:76px;font-size:13px"><p>دماوند<br>5%</p></div>
<div class="t g4" style="left:1381px;top:634px;width:73px;height:39px;font-size:9px"><p>وهور<br>4.97%</p></div>
<div class="t g4" style="left:1453px;top:559px;width:37px;height:43px;font-size:7px"><p>مبين<br>4.92%</p></div>
<div class="t g1" style="left:1489px;top:559px;width:36px;height:43px;font-size:7px"><p>بخهوم<br>1.7%</p></div>
<div class="t g4" style="left:1453px;top:601px;width:37px;height:32px;font-size:6px"><p>آبادا<br>4.94%</p></div>
<div class="t g3" style="left:1489px;top:601px;width:36px;height:32px;font-size:6px"><p>وجره<br>3.22%</p></div>
<div class="t g4" style="left:1453px;top:632px;width:26px;height:41px;font-size:5px"><p>بفجر<br>4.13%</p></div>
<div class="t g4" style="left:1478px;top:632px;width:24px;height:41px;font-size:5px"><p>بپيوند<br>4.99%</p></div>
<div class="t g0" style="left:1501px;top:632px;width:24px;height:41px;font-size:5px"><p>بجهرم<br>0.94%</p></div>

<!-- haml -->
<div class="t r0" style="left:1534px;top:367px;width:52px;height:91px;font-size:12px"><p>حكشتي<br>-0.06%</p></div>
<div class="t g4" style="left:1585px;top:367px;width:35px;height:44px;font-size:7px"><p>حپارل<br>5%</p></div>
<div class="t g4" style="left:1619px;top:367px;width:23px;height:44px;font-size:5px"><p>حپترو<br>4.99%</p></div>
<div class="t g1" style="left:1585px;top:410px;width:39px;height:26px;font-size:5px"><p>حتوكا<br>1.53%</p></div>
<div class="t g4" style="left:1585px;top:435px;width:39px;height:23px;font-size:5px"><p>حاسا<br>5%</p></div>
<div class="t g1" style="left:1623px;top:410px;width:19px;height:48px;font-size:5px"><p>حآبا<br>1.5%</p></div>

<!-- hotel -->
<div class="t g0" style="left:1534px;top:486px;width:72px;height:87px;font-size:13px"><p>سمگا<br>0.57%</p></div>
<div class="t g1" style="left:1605px;top:486px;width:37px;height:67px;font-size:8px"><p>گدنا<br>1.81%</p></div>
<div class="t r2" style="left:1605px;top:552px;width:37px;height:21px;font-size:5px"><p>اگدر<br>-2.13%</p></div>

<!-- vaseteh -->
<div class="t g4" style="left:1534px;top:601px;width:45px;height:72px;font-size:10px"><p>ولغدير<br>4.99%</p></div>
<div class="t g4" style="left:1578px;top:601px;width:64px;height:37px;font-size:8px"><p>وايران<br>4.94%</p></div>
<div class="t g2" style="left:1578px;top:637px;width:32px;height:36px;font-size:6px"><p>ولساپا<br>2.77%</p></div>
<div class="t g4" style="left:1609px;top:637px;width:33px;height:36px;font-size:6px"><p>ولكار<br>4.89%</p></div>

<!-- lastik -->
<div class="t g4" style="left:1651px;top:367px;width:46px;height:69px;font-size:10px"><p>پتاير<br>4.98%</p></div>
<div class="t g4" style="left:1696px;top:367px;width:41px;height:43px;font-size:7px"><p>پاسا<br>4.98%</p></div>
<div class="t g4" style="left:1736px;top:367px;width:24px;height:43px;font-size:5px"><p>پلاسكو<br>4.92%</p></div>
<div class="t g4" style="left:1696px;top:409px;width:33px;height:27px;font-size:5px"><p>پكوير<br>4.99%</p></div>
<div class="t g4" style="left:1728px;top:409px;width:32px;height:27px;font-size:5px"><p>پسهند<br>4.53%</p></div>

<!-- zeraat -->
<div class="t g4" style="left:1770px;top:367px;width:42px;height:41px;font-size:7px"><p>زماهان<br>5%</p></div>
<div class="t g4" style="left:1770px;top:407px;width:42px;height:29px;font-size:6px"><p>زكوثر<br>4.21%</p></div>
<div class="t g4" style="left:1811px;top:367px;width:30px;height:40px;font-size:6px"><p>زبينا<br>5%</p></div>
<div class="t g4" style="left:1840px;top:367px;width:28px;height:40px;font-size:5px"><p>زشريف<br>5%</p></div>
<div class="t g4" style="left:1811px;top:406px;width:30px;height:30px;font-size:5px"><p>زمگسا<br>4.99%</p></div>
<div class="t g4" style="left:1840px;top:406px;width:28px;height:30px;font-size:5px"><p>زشت<br>5%</p></div>

<!-- sakht m -->
<div class="t g4" style="left:1651px;top:464px;width:41px;height:66px;font-size:9px"><p>چدن<br>5%</p></div>
<div class="t g1" style="left:1691px;top:464px;width:43px;height:35px;font-size:6px"><p>فارك<br>1.18%</p></div>
<div class="t g2" style="left:1691px;top:498px;width:43px;height:32px;font-size:6px"><p>فاذر<br>2.88%</p></div>

<!-- kashi -->
<div class="t g4" style="left:1742px;top:464px;width:37px;height:50px;font-size:7px"><p>كساوه<br>5%</p></div>
<div class="t g4" style="left:1778px;top:464px;width:26px;height:50px;font-size:6px"><p>كپارس<br>4.99%</p></div>
<div class="t g4" style="left:1742px;top:513px;width:62px;height:17px;font-size:5px"><p>كترام<br>4.99%</p></div>

<!-- mash -->
<div class="t g1" style="left:1813px;top:464px;width:55px;height:42px;font-size:8px"><p>تراتس<br>1.24%</p></div>
<div class="t g0" style="left:1813px;top:505px;width:29px;height:25px;font-size:4px"><p>وقو<br>0.09%</p></div>
<div class="t g4" style="left:1841px;top:505px;width:27px;height:25px;font-size:4px"><p>بشهاب<br>4.99%</p></div>

<!-- tiny sectors -->
<div class="t g4" style="left:1651px;top:559px;width:49px;height:46px;font-size:10px"><p>لهارس<br>5%</p></div>
<div class="t g0" style="left:1709px;top:559px;width:42px;height:42px;font-size:9px"><p>ماديرا<br>0.77%</p></div>
<div class="t g4" style="left:1760px;top:559px;width:52px;height:29px;font-size:10px;line-height:1.2"><p>همراه<br>4.93%</p></div>
<div class="t r2" style="left:1821px;top:559px;width:30px;height:29px;font-size:6px"><p>جم<br>-2.96%</p></div>
<div class="t g4" style="left:1850px;top:559px;width:18px;height:29px;font-size:5px"><p>جپ<br>4.91%</p></div>
<div class="t g0" style="left:1651px;top:635px;width:28px;height:42px;font-size:6px"><p>رمپنا<br>0.89%</p></div>
<div class="t g4" style="left:1678px;top:635px;width:21px;height:42px;font-size:5px"><p>رنيك<br>1.66%</p></div>
<div class="t g3" style="left:1709px;top:630px;width:26px;height:47px;font-size:6px"><p>كرغال<br>3.14%</p></div>
<div class="t g4" style="left:1734px;top:630px;width:17px;height:47px;font-size:5px"><p>كلبس<br>4.99%</p></div>
<div class="t g0" style="left:1760px;top:617px;width:52px;height:15px;font-size:6px"><p>حفاري<br>0.99%</p></div>
<div class="t g4" style="left:1760px;top:660px;width:52px;height:17px;font-size:6px"><p>ومليح<br>5%</p></div>
<div class="t g4" style="left:1820px;top:617px;width:22px;height:17px;font-size:5px"><p>ولشرق<br>5%</p></div>
<div class="t r0" style="left:1850px;top:617px;width:18px;height:17px;font-size:5px"><p>اپ<br>-1.7%</p></div>
<div class="t g4" style="left:1820px;top:664px;width:22px;height:13px;font-size:5px"><p>ثنور<br>5%</p></div>
<div class="t g0" style="left:1850px;top:664px;width:18px;height:13px;font-size:5px"><p>اا<br>0.5%</p></div>

</body></html>
